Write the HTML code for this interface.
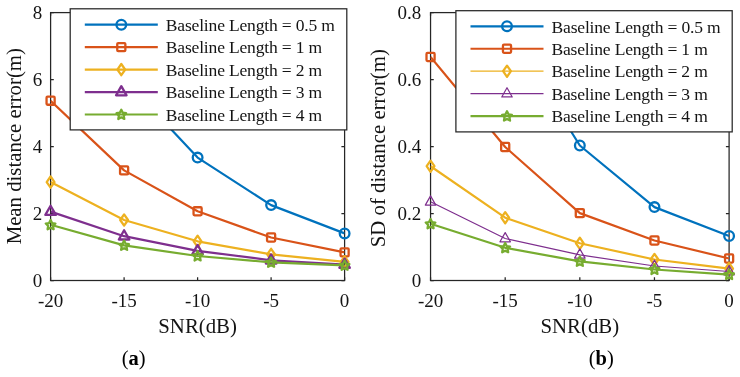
<!DOCTYPE html>
<html><head><meta charset="utf-8"><style>
html,body{margin:0;padding:0;background:#fff;}
body{width:740px;height:377px;overflow:hidden;}
svg{display:block;filter:blur(0.3px);}
text{font-family:"Liberation Serif",serif;fill:#141414;}
.t{font-size:19px;}
.l{font-size:20.8px;}
.g{font-size:17.55px;}
.c{font-size:20.5px;fill:#000;}
</style></head><body>
<svg width="740" height="377" viewBox="0 0 740 377">
<rect width="740" height="377" fill="#fff"/>
<clipPath id="ca"><rect x="50.6" y="12.6" width="294.0" height="267.9"/></clipPath>
<rect x="50.6" y="12.6" width="294.0" height="267.9" fill="none" stroke="#262626" stroke-width="1.25"/>
<path d="M50.60 280.5V277.3M50.60 12.6V15.8" stroke="#262626" stroke-width="1.25"/>
<text x="50.60" y="306.5" text-anchor="middle" class="t">-20</text>
<path d="M124.10 280.5V277.3M124.10 12.6V15.8" stroke="#262626" stroke-width="1.25"/>
<text x="124.10" y="306.5" text-anchor="middle" class="t">-15</text>
<path d="M197.60 280.5V277.3M197.60 12.6V15.8" stroke="#262626" stroke-width="1.25"/>
<text x="197.60" y="306.5" text-anchor="middle" class="t">-10</text>
<path d="M271.10 280.5V277.3M271.10 12.6V15.8" stroke="#262626" stroke-width="1.25"/>
<text x="271.10" y="306.5" text-anchor="middle" class="t">-5</text>
<path d="M344.60 280.5V277.3M344.60 12.6V15.8" stroke="#262626" stroke-width="1.25"/>
<text x="344.60" y="306.5" text-anchor="middle" class="t">0</text>
<path d="M50.6 280.50H53.800000000000004M344.6 280.50H341.40000000000003" stroke="#262626" stroke-width="1.25"/>
<text x="42.2" y="287.30" text-anchor="end" class="t">0</text>
<path d="M50.6 213.53H53.800000000000004M344.6 213.53H341.40000000000003" stroke="#262626" stroke-width="1.25"/>
<text x="42.2" y="220.33" text-anchor="end" class="t">2</text>
<path d="M50.6 146.55H53.800000000000004M344.6 146.55H341.40000000000003" stroke="#262626" stroke-width="1.25"/>
<text x="42.2" y="153.35" text-anchor="end" class="t">4</text>
<path d="M50.6 79.58H53.800000000000004M344.6 79.58H341.40000000000003" stroke="#262626" stroke-width="1.25"/>
<text x="42.2" y="86.38" text-anchor="end" class="t">6</text>
<path d="M50.6 12.60H53.800000000000004M344.6 12.60H341.40000000000003" stroke="#262626" stroke-width="1.25"/>
<text x="42.2" y="19.40" text-anchor="end" class="t">8</text>
<path d="M50.60 -200.00L124.10 79.20L197.60 157.60L271.10 205.10L344.60 233.40" fill="none" stroke="#0072BD" stroke-width="2.2" stroke-linejoin="round" clip-path="url(#ca)"/><circle cx="124.10" cy="79.20" r="4.85" fill="none" stroke="#0072BD" stroke-width="2.3"/><circle cx="197.60" cy="157.60" r="4.85" fill="none" stroke="#0072BD" stroke-width="2.3"/><circle cx="271.10" cy="205.10" r="4.85" fill="none" stroke="#0072BD" stroke-width="2.3"/><circle cx="344.60" cy="233.40" r="4.85" fill="none" stroke="#0072BD" stroke-width="2.3"/>
<path d="M50.60 100.70L124.10 170.40L197.60 211.30L271.10 237.50L344.60 252.40" fill="none" stroke="#D95319" stroke-width="2.2" stroke-linejoin="round" clip-path="url(#ca)"/><rect x="46.55" y="96.65" width="8.10" height="8.10" rx="1" fill="none" stroke="#D95319" stroke-width="2.3" stroke-linejoin="round"/><rect x="120.05" y="166.35" width="8.10" height="8.10" rx="1" fill="none" stroke="#D95319" stroke-width="2.3" stroke-linejoin="round"/><rect x="193.55" y="207.25" width="8.10" height="8.10" rx="1" fill="none" stroke="#D95319" stroke-width="2.3" stroke-linejoin="round"/><rect x="267.05" y="233.45" width="8.10" height="8.10" rx="1" fill="none" stroke="#D95319" stroke-width="2.3" stroke-linejoin="round"/><rect x="340.55" y="248.35" width="8.10" height="8.10" rx="1" fill="none" stroke="#D95319" stroke-width="2.3" stroke-linejoin="round"/>
<path d="M50.60 182.10L124.10 220.00L197.60 241.30L271.10 254.40L344.60 261.90" fill="none" stroke="#EDB120" stroke-width="2.2" stroke-linejoin="round" clip-path="url(#ca)"/><path d="M50.60 176.50L54.50 182.10L50.60 187.70L46.70 182.10Z" fill="none" stroke="#EDB120" stroke-width="2.3" stroke-linejoin="round"/><path d="M124.10 214.40L128.00 220.00L124.10 225.60L120.20 220.00Z" fill="none" stroke="#EDB120" stroke-width="2.3" stroke-linejoin="round"/><path d="M197.60 235.70L201.50 241.30L197.60 246.90L193.70 241.30Z" fill="none" stroke="#EDB120" stroke-width="2.3" stroke-linejoin="round"/><path d="M271.10 248.80L275.00 254.40L271.10 260.00L267.20 254.40Z" fill="none" stroke="#EDB120" stroke-width="2.3" stroke-linejoin="round"/><path d="M344.60 256.30L348.50 261.90L344.60 267.50L340.70 261.90Z" fill="none" stroke="#EDB120" stroke-width="2.3" stroke-linejoin="round"/>
<path d="M50.60 211.60L124.10 236.20L197.60 250.80L271.10 260.30L344.60 264.50" fill="none" stroke="#7E2F8E" stroke-width="2.2" stroke-linejoin="round" clip-path="url(#ca)"/><path d="M50.60 205.70L55.85 214.90L45.35 214.90Z" fill="none" stroke="#7E2F8E" stroke-width="2.3" stroke-linejoin="round"/><path d="M124.10 230.30L129.35 239.50L118.85 239.50Z" fill="none" stroke="#7E2F8E" stroke-width="2.3" stroke-linejoin="round"/><path d="M197.60 244.90L202.85 254.10L192.35 254.10Z" fill="none" stroke="#7E2F8E" stroke-width="2.3" stroke-linejoin="round"/><path d="M271.10 254.40L276.35 263.60L265.85 263.60Z" fill="none" stroke="#7E2F8E" stroke-width="2.3" stroke-linejoin="round"/><path d="M344.60 258.60L349.85 267.80L339.35 267.80Z" fill="none" stroke="#7E2F8E" stroke-width="2.3" stroke-linejoin="round"/>
<path d="M50.60 224.80L124.10 245.40L197.60 256.00L271.10 262.30L344.60 265.30" fill="none" stroke="#77AC30" stroke-width="2.2" stroke-linejoin="round" clip-path="url(#ca)"/><path d="M50.60 220.00L52.10 223.04L55.45 223.52L53.03 225.89L53.60 229.23L50.60 227.65L47.60 229.23L48.17 225.89L45.75 223.52L49.10 223.04Z" fill="none" stroke="#77AC30" stroke-width="2.3" stroke-linejoin="round"/><path d="M124.10 240.60L125.60 243.64L128.95 244.12L126.53 246.49L127.10 249.83L124.10 248.25L121.10 249.83L121.67 246.49L119.25 244.12L122.60 243.64Z" fill="none" stroke="#77AC30" stroke-width="2.3" stroke-linejoin="round"/><path d="M197.60 251.20L199.10 254.24L202.45 254.72L200.03 257.09L200.60 260.43L197.60 258.85L194.60 260.43L195.17 257.09L192.75 254.72L196.10 254.24Z" fill="none" stroke="#77AC30" stroke-width="2.3" stroke-linejoin="round"/><path d="M271.10 257.50L272.60 260.54L275.95 261.02L273.53 263.39L274.10 266.73L271.10 265.15L268.10 266.73L268.67 263.39L266.25 261.02L269.60 260.54Z" fill="none" stroke="#77AC30" stroke-width="2.3" stroke-linejoin="round"/><path d="M344.60 260.50L346.10 263.54L349.45 264.02L347.03 266.39L347.60 269.73L344.60 268.15L341.60 269.73L342.17 266.39L339.75 264.02L343.10 263.54Z" fill="none" stroke="#77AC30" stroke-width="2.3" stroke-linejoin="round"/>
<text x="197.60" y="332.8" text-anchor="middle" class="l">SNR(dB)</text>
<text transform="translate(20.6 146.2) rotate(-90)" text-anchor="middle" class="l">Mean distance error(m)</text>
<rect x="70.2" y="8.8" width="276.6" height="121.10000000000001" fill="#fff" stroke="#262626" stroke-width="1.25"/>
<path d="M84.80 24.70H157.80" stroke="#0072BD" stroke-width="2.2"/>
<circle cx="121.30" cy="24.70" r="4.85" fill="none" stroke="#0072BD" stroke-width="2.3"/>
<text x="165.80" y="30.90" class="g" textLength="169.14" lengthAdjust="spacing">Baseline Length = 0.5 m</text>
<path d="M84.80 47.15H157.80" stroke="#D95319" stroke-width="2.2"/>
<rect x="117.25" y="43.10" width="8.10" height="8.10" rx="1" fill="none" stroke="#D95319" stroke-width="2.3" stroke-linejoin="round"/>
<text x="165.80" y="53.35" class="g" textLength="156.3" lengthAdjust="spacing">Baseline Length = 1 m</text>
<path d="M84.80 69.60H157.80" stroke="#EDB120" stroke-width="2.2"/>
<path d="M121.30 64.00L125.20 69.60L121.30 75.20L117.40 69.60Z" fill="none" stroke="#EDB120" stroke-width="2.3" stroke-linejoin="round"/>
<text x="165.80" y="75.80" class="g" textLength="156.3" lengthAdjust="spacing">Baseline Length = 2 m</text>
<path d="M84.80 92.05H157.80" stroke="#7E2F8E" stroke-width="2.2"/>
<path d="M121.30 86.15L126.55 95.35L116.05 95.35Z" fill="none" stroke="#7E2F8E" stroke-width="2.3" stroke-linejoin="round"/>
<text x="165.80" y="98.25" class="g" textLength="156.3" lengthAdjust="spacing">Baseline Length = 3 m</text>
<path d="M84.80 114.50H157.80" stroke="#77AC30" stroke-width="2.2"/>
<path d="M121.30 109.70L122.80 112.74L126.15 113.22L123.73 115.59L124.30 118.93L121.30 117.35L118.30 118.93L118.87 115.59L116.45 113.22L119.80 112.74Z" fill="none" stroke="#77AC30" stroke-width="2.3" stroke-linejoin="round"/>
<text x="165.80" y="120.70" class="g" textLength="156.3" lengthAdjust="spacing">Baseline Length = 4 m</text>
<clipPath id="cb"><rect x="430.55" y="12.6" width="298.55" height="267.9"/></clipPath>
<rect x="430.55" y="12.6" width="298.55" height="267.9" fill="none" stroke="#262626" stroke-width="1.25"/>
<path d="M430.55 280.5V277.3M430.55 12.6V15.8" stroke="#262626" stroke-width="1.25"/>
<text x="430.55" y="306.5" text-anchor="middle" class="t">-20</text>
<path d="M505.19 280.5V277.3M505.19 12.6V15.8" stroke="#262626" stroke-width="1.25"/>
<text x="505.19" y="306.5" text-anchor="middle" class="t">-15</text>
<path d="M579.83 280.5V277.3M579.83 12.6V15.8" stroke="#262626" stroke-width="1.25"/>
<text x="579.83" y="306.5" text-anchor="middle" class="t">-10</text>
<path d="M654.46 280.5V277.3M654.46 12.6V15.8" stroke="#262626" stroke-width="1.25"/>
<text x="654.46" y="306.5" text-anchor="middle" class="t">-5</text>
<path d="M729.10 280.5V277.3M729.10 12.6V15.8" stroke="#262626" stroke-width="1.25"/>
<text x="729.10" y="306.5" text-anchor="middle" class="t">0</text>
<path d="M430.55 280.50H433.75M729.1 280.50H725.9" stroke="#262626" stroke-width="1.25"/>
<text x="421.2" y="287.30" text-anchor="end" class="t">0</text>
<path d="M430.55 213.53H433.75M729.1 213.53H725.9" stroke="#262626" stroke-width="1.25"/>
<text x="421.2" y="220.33" text-anchor="end" class="t">0.2</text>
<path d="M430.55 146.55H433.75M729.1 146.55H725.9" stroke="#262626" stroke-width="1.25"/>
<text x="421.2" y="153.35" text-anchor="end" class="t">0.4</text>
<path d="M430.55 79.58H433.75M729.1 79.58H725.9" stroke="#262626" stroke-width="1.25"/>
<text x="421.2" y="86.38" text-anchor="end" class="t">0.6</text>
<path d="M430.55 12.60H433.75M729.1 12.60H725.9" stroke="#262626" stroke-width="1.25"/>
<text x="421.2" y="19.40" text-anchor="end" class="t">0.8</text>
<path d="M430.55 -200.00L505.19 25.80L579.83 145.50L654.46 207.10L729.10 236.00" fill="none" stroke="#0072BD" stroke-width="2.2" stroke-linejoin="round" clip-path="url(#cb)"/><circle cx="505.19" cy="25.80" r="4.85" fill="none" stroke="#0072BD" stroke-width="2.3"/><circle cx="579.83" cy="145.50" r="4.85" fill="none" stroke="#0072BD" stroke-width="2.3"/><circle cx="654.46" cy="207.10" r="4.85" fill="none" stroke="#0072BD" stroke-width="2.3"/><circle cx="729.10" cy="236.00" r="4.85" fill="none" stroke="#0072BD" stroke-width="2.3"/>
<path d="M430.55 57.00L505.19 147.00L579.83 213.10L654.46 240.50L729.10 258.50" fill="none" stroke="#D95319" stroke-width="2.2" stroke-linejoin="round" clip-path="url(#cb)"/><rect x="426.50" y="52.95" width="8.10" height="8.10" rx="1" fill="none" stroke="#D95319" stroke-width="2.3" stroke-linejoin="round"/><rect x="501.14" y="142.95" width="8.10" height="8.10" rx="1" fill="none" stroke="#D95319" stroke-width="2.3" stroke-linejoin="round"/><rect x="575.78" y="209.05" width="8.10" height="8.10" rx="1" fill="none" stroke="#D95319" stroke-width="2.3" stroke-linejoin="round"/><rect x="650.41" y="236.45" width="8.10" height="8.10" rx="1" fill="none" stroke="#D95319" stroke-width="2.3" stroke-linejoin="round"/><rect x="725.05" y="254.45" width="8.10" height="8.10" rx="1" fill="none" stroke="#D95319" stroke-width="2.3" stroke-linejoin="round"/>
<path d="M430.55 166.20L505.19 217.70L579.83 243.30L654.46 259.50L729.10 268.60" fill="none" stroke="#EDB120" stroke-width="2.2" stroke-linejoin="round" clip-path="url(#cb)"/><path d="M430.55 160.60L434.45 166.20L430.55 171.80L426.65 166.20Z" fill="none" stroke="#EDB120" stroke-width="2.3" stroke-linejoin="round"/><path d="M505.19 212.10L509.09 217.70L505.19 223.30L501.29 217.70Z" fill="none" stroke="#EDB120" stroke-width="2.3" stroke-linejoin="round"/><path d="M579.83 237.70L583.73 243.30L579.83 248.90L575.93 243.30Z" fill="none" stroke="#EDB120" stroke-width="2.3" stroke-linejoin="round"/><path d="M654.46 253.90L658.36 259.50L654.46 265.10L650.56 259.50Z" fill="none" stroke="#EDB120" stroke-width="2.3" stroke-linejoin="round"/><path d="M729.10 263.00L733.00 268.60L729.10 274.20L725.20 268.60Z" fill="none" stroke="#EDB120" stroke-width="2.3" stroke-linejoin="round"/>
<path d="M430.55 201.80L505.19 238.50L579.83 254.80L654.46 266.00L729.10 271.50" fill="none" stroke="#7E2F8E" stroke-width="1.2" stroke-linejoin="round" clip-path="url(#cb)"/><path d="M430.55 195.90L435.80 205.10L425.30 205.10Z" fill="none" stroke="#7E2F8E" stroke-width="1.2" stroke-linejoin="round"/><path d="M505.19 232.60L510.44 241.80L499.94 241.80Z" fill="none" stroke="#7E2F8E" stroke-width="1.2" stroke-linejoin="round"/><path d="M579.83 248.90L585.08 258.10L574.58 258.10Z" fill="none" stroke="#7E2F8E" stroke-width="1.2" stroke-linejoin="round"/><path d="M654.46 260.10L659.71 269.30L649.21 269.30Z" fill="none" stroke="#7E2F8E" stroke-width="1.2" stroke-linejoin="round"/><path d="M729.10 265.60L734.35 274.80L723.85 274.80Z" fill="none" stroke="#7E2F8E" stroke-width="1.2" stroke-linejoin="round"/>
<path d="M430.55 223.80L505.19 247.80L579.83 261.40L654.46 269.50L729.10 274.60" fill="none" stroke="#77AC30" stroke-width="2.2" stroke-linejoin="round" clip-path="url(#cb)"/><path d="M430.55 219.00L432.05 222.04L435.40 222.52L432.98 224.89L433.55 228.23L430.55 226.65L427.55 228.23L428.12 224.89L425.70 222.52L429.05 222.04Z" fill="none" stroke="#77AC30" stroke-width="2.3" stroke-linejoin="round"/><path d="M505.19 243.00L506.69 246.04L510.04 246.52L507.61 248.89L508.19 252.23L505.19 250.65L502.19 252.23L502.76 248.89L500.34 246.52L503.69 246.04Z" fill="none" stroke="#77AC30" stroke-width="2.3" stroke-linejoin="round"/><path d="M579.83 256.60L581.32 259.64L584.68 260.12L582.25 262.49L582.82 265.83L579.83 264.25L576.83 265.83L577.40 262.49L574.97 260.12L578.33 259.64Z" fill="none" stroke="#77AC30" stroke-width="2.3" stroke-linejoin="round"/><path d="M654.46 264.70L655.96 267.74L659.31 268.22L656.89 270.59L657.46 273.93L654.46 272.35L651.46 273.93L652.04 270.59L649.61 268.22L652.96 267.74Z" fill="none" stroke="#77AC30" stroke-width="2.3" stroke-linejoin="round"/><path d="M729.10 269.80L730.60 272.84L733.95 273.32L731.53 275.69L732.10 279.03L729.10 277.45L726.10 279.03L726.67 275.69L724.25 273.32L727.60 272.84Z" fill="none" stroke="#77AC30" stroke-width="2.3" stroke-linejoin="round"/>
<text x="579.83" y="332.8" text-anchor="middle" class="l">SNR(dB)</text>
<text transform="translate(384.5 148.2) rotate(-90)" text-anchor="middle" class="l">SD of distance error(m)</text>
<rect x="455.9" y="10.7" width="276.30000000000007" height="121.2" fill="#fff" stroke="#262626" stroke-width="1.25"/>
<path d="M470.50 26.30H543.50" stroke="#0072BD" stroke-width="2.2"/>
<circle cx="507.00" cy="26.30" r="4.85" fill="none" stroke="#0072BD" stroke-width="2.3"/>
<text x="551.50" y="32.50" class="g" textLength="169.14" lengthAdjust="spacing">Baseline Length = 0.5 m</text>
<path d="M470.50 48.75H543.50" stroke="#D95319" stroke-width="2.2"/>
<rect x="502.95" y="44.70" width="8.10" height="8.10" rx="1" fill="none" stroke="#D95319" stroke-width="2.3" stroke-linejoin="round"/>
<text x="551.50" y="54.95" class="g" textLength="156.3" lengthAdjust="spacing">Baseline Length = 1 m</text>
<path d="M470.50 71.20H543.50" stroke="#EDB120" stroke-width="1.2"/>
<path d="M507.00 65.60L510.90 71.20L507.00 76.80L503.10 71.20Z" fill="none" stroke="#EDB120" stroke-width="2.3" stroke-linejoin="round"/>
<text x="551.50" y="77.40" class="g" textLength="156.3" lengthAdjust="spacing">Baseline Length = 2 m</text>
<path d="M470.50 93.65H543.50" stroke="#7E2F8E" stroke-width="1.2"/>
<path d="M507.00 87.75L512.25 96.95L501.75 96.95Z" fill="none" stroke="#7E2F8E" stroke-width="1.2" stroke-linejoin="round"/>
<text x="551.50" y="99.85" class="g" textLength="156.3" lengthAdjust="spacing">Baseline Length = 3 m</text>
<path d="M470.50 116.10H543.50" stroke="#77AC30" stroke-width="2.2"/>
<path d="M507.00 111.30L508.50 114.34L511.85 114.82L509.43 117.19L510.00 120.53L507.00 118.95L504.00 120.53L504.57 117.19L502.15 114.82L505.50 114.34Z" fill="none" stroke="#77AC30" stroke-width="2.3" stroke-linejoin="round"/>
<text x="551.50" y="122.30" class="g" textLength="156.3" lengthAdjust="spacing">Baseline Length = 4 m</text>
<text x="133.6" y="365.2" text-anchor="middle" class="c">(<tspan font-weight="bold">a</tspan>)</text>
<text x="601.3" y="365.2" text-anchor="middle" class="c">(<tspan font-weight="bold">b</tspan>)</text>
</svg>
</body></html>
